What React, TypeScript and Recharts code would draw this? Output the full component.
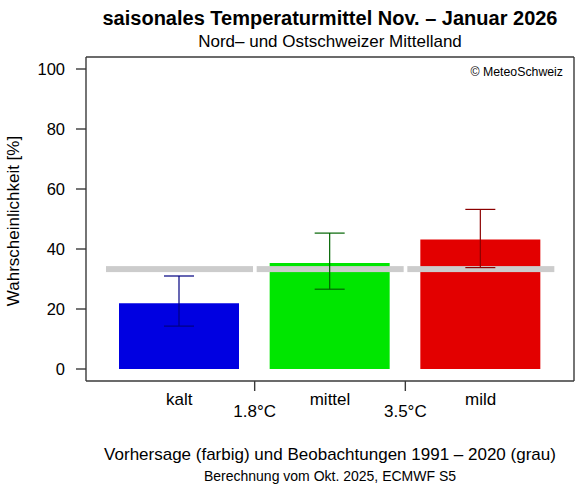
import { ComposedChart, Bar, Cell, XAxis, YAxis } from "recharts";

const categories = ["kalt", "mittel", "mild"];
const forecast = [21.9, 35.3, 43.2];
const forecastLow = [14.3, 26.6, 33.8];
const forecastHigh = [31.0, 45.3, 53.2];
const observed = [33.3, 33.3, 33.3];
const thresholdLabels = ["1.8°C", "3.5°C"];
const yTicks = [0, 20, 40, 60, 80, 100];

const barColors = ["#0000E1", "#00E600", "#E30000"];
const whiskerColors = ["#000080", "#006400", "#8B0000"];

const data = categories.map((name, i) => ({
  name,
  forecast: forecast[i],
  range: [forecastLow[i], forecastHigh[i]],
  observed: observed[i],
}));

const FONT = "'Liberation Sans', Arial, Helvetica, sans-serif";
const BOX = "#3a3a3a";
const PAD = { left: 18, right: 18 };

// category name at the band centre; the threshold tick sits on the border to the next band
function BottomTick({ x, y, payload, index }: any) {
  const half = payload.offset ?? 0;
  const thr = thresholdLabels[index];
  return (
    <g>
      <text x={x} y={y + 24} textAnchor="middle" fontSize={17} fill="#000">
        {payload.value}
      </text>
      {thr && (
        <g>
          <line x1={x + half} x2={x + half} y1={y} y2={y + 10} stroke={BOX} strokeWidth={1.4} />
          <text x={x + half} y={y + 36} textAnchor="middle" fontSize={17} fill="#000">
            {thr}
          </text>
        </g>
      )}
    </g>
  );
}

function ObservedLine(p: any) {
  return <rect x={p.x} y={p.y - 3} width={p.width} height={6} fill="#CCCCCC" />;
}

function Whisker(p: any) {
  const i = categories.indexOf(p.payload?.name ?? p.name);
  const cx = p.x + p.width / 2;
  return (
    <g stroke={whiskerColors[i]} strokeWidth={1.2}>
      <line x1={p.x} x2={p.x + p.width} y1={p.y} y2={p.y} />
      <line x1={cx} x2={cx} y1={p.y} y2={p.y + p.height} />
      <line x1={p.x} x2={p.x + p.width} y1={p.y + p.height} y2={p.y + p.height} />
    </g>
  );
}

export default function App() {
  return (
    <div style={{ position: "absolute", left: 0, top: 0, width: 582, height: 492, fontFamily: FONT, background: "#fff" }}>
      <ComposedChart width={582} height={492} data={data} margin={{ top: 56, right: 7, bottom: 71, left: 0 }}>
        <XAxis
          xAxisId="cat"
          dataKey="name"
          padding={PAD}
          height={40}
          interval={0}
          tickSize={0}
          tickMargin={0}
          tickLine={false}
          tick={<BottomTick />}
          axisLine={{ stroke: BOX, strokeWidth: 1.4 }}
        />
        <XAxis xAxisId="obs" dataKey="name" hide padding={PAD} />
        <XAxis xAxisId="err" dataKey="name" hide padding={PAD} />
        <XAxis
          xAxisId="top"
          orientation="top"
          dataKey="name"
          height={1}
          tick={false}
          tickLine={false}
          axisLine={{ stroke: BOX, strokeWidth: 1.4 }}
        />
        <YAxis
          domain={[-4, 104]}
          ticks={yTicks}
          interval={0}
          width={86}
          tickSize={10}
          tickMargin={11}
          tick={{ fill: "#000", fontSize: 16.5 }}
          tickLine={{ stroke: BOX, strokeWidth: 1.4 }}
          axisLine={{ stroke: BOX, strokeWidth: 1.4 }}
          allowDataOverflow
        />
        <YAxis
          yAxisId="right"
          orientation="right"
          domain={[-4, 104]}
          width={1}
          tick={false}
          tickLine={false}
          axisLine={{ stroke: BOX, strokeWidth: 1.4 }}
          allowDataOverflow
        />
        <Bar xAxisId="cat" dataKey="forecast" barSize={120} isAnimationActive={false}>
          {data.map((d, i) => (
            <Cell key={d.name} fill={barColors[i]} />
          ))}
        </Bar>
        <Bar xAxisId="obs" dataKey="observed" barSize={147} isAnimationActive={false} shape={<ObservedLine />} />
        <Bar xAxisId="err" dataKey="range" barSize={30} isAnimationActive={false} shape={<Whisker />} />
      </ComposedChart>
      <svg width={582} height={492} style={{ position: "absolute", left: 0, top: 0, pointerEvents: "none" }}>
        <text x={330} y={25} textAnchor="middle" fontSize={20} fontWeight="bold" fill="#000">
          saisonales Temperaturmittel Nov. – Januar 2026
        </text>
        <text x={330} y={47} textAnchor="middle" fontSize={17} fill="#000">
          Nord– und Ostschweizer Mittelland
        </text>
        <text x={563} y={76} textAnchor="end" fontSize={12.3} fill="#000">
          © MeteoSchweiz
        </text>
        <text x={19} y={221} textAnchor="middle" fontSize={17} fill="#000" transform="rotate(-90 19 221)">
          Wahrscheinlichkeit [%]
        </text>
        <text x={330} y={460} textAnchor="middle" fontSize={17} fill="#000">
          Vorhersage (farbig) und Beobachtungen 1991 – 2020 (grau)
        </text>
        <text x={330} y={481} textAnchor="middle" fontSize={14} fill="#000">
          Berechnung vom Okt. 2025, ECMWF S5
        </text>
      </svg>
    </div>
  );
}
